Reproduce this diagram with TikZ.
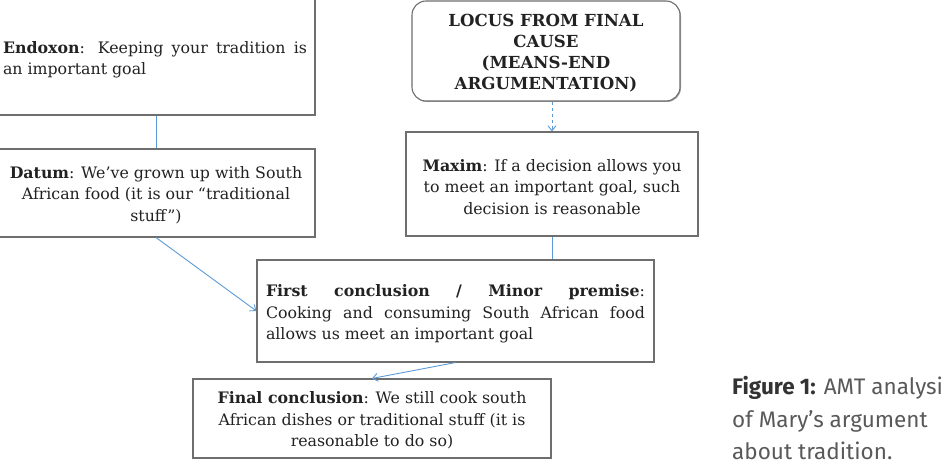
\documentclass[tikz,border=0pt]{standalone}
\usepackage{fontspec}
\setmainfont{DejaVu Serif}
\newfontfamily\capfont{Fira Sans}
\usetikzlibrary{arrows.meta,shadows}
\definecolor{lnblue}{HTML}{5B9BD5}
\definecolor{boxgray}{HTML}{6E6E6E}
\definecolor{txt}{HTML}{222222}
\tikzset{
  box/.style={draw=boxgray, line width=1.1pt, fill=white, inner xsep=8pt, inner ysep=4pt,
    font=\fontsize{15.8}{21.5}\selectfont, text=txt,
    drop shadow={shadow xshift=1pt, shadow yshift=-1pt, opacity=0.35, fill=black}},
  boxtext/.style={inner sep=0pt, font=\fontsize{15.8}{21.5}\selectfont, text=txt},
  link/.style={draw=lnblue, line width=0.9pt},
  arr/.style={link, -{Straight Barb[length=5pt,width=8pt]}},
}
\begin{document}
\begin{tikzpicture}[x=1pt,y=-1pt]
\useasboundingbox (0,0) rectangle (943,476);
\clip (0,0) rectangle (943,476);
% boxes
\node[box, minimum width=320pt, minimum height=130pt] (endoxon) at (155,50) {};
\node[box, minimum width=318pt, minimum height=88pt] (datum) at (156,193) {};
\node[box, rounded corners=14pt, minimum width=268pt, minimum height=100pt] (locus) at (546,51) {};
\node[box, minimum width=292pt, minimum height=104pt] (maxim) at (552,184) {};
\node[box, minimum width=397pt, minimum height=102pt] (first) at (455.5,311) {};
\node[box, minimum width=358pt, minimum height=79pt] (final) at (372,418.5) {};
% texts
\node[boxtext, align=justify, text width=304pt] (endoxontext) at (155,60)
  {\textbf{Endoxon}: Keeping your tradition is\linebreak an important goal};
\node[boxtext, align=center] (datumtext) at (156,195)
  {\textbf{Datum}: We've grown up with South\\African food (it is our “traditional\\stuff”)};
\node[boxtext, align=center, font=\fontsize{16.6}{21}\selectfont\bfseries] (locustext) at (546,53.5)
  {LOCUS FROM FINAL\\CAUSE\\(MEANS-END\\ARGUMENTATION)};
\node[boxtext, align=center] (maximtext) at (552,187)
  {\textbf{Maxim}: If a decision allows you\\to meet an important goal, such\\decision is reasonable};
\node[boxtext, align=justify, text width=379pt] (firsttext) at (455.5,314)
  {\textbf{First conclusion / Minor premise}:\linebreak Cooking and consuming South African food\linebreak allows us meet an important goal};
\node[boxtext, align=center] (finaltext) at (372,420.5)
  {\textbf{Final conclusion}: We still cook south\\African dishes or traditional stuff (it is\\reasonable to do so)};
\node[anchor=north west, align=left, inner sep=0pt, text=black!65,
  font=\capfont\fontsize{22.5}{32.5}\selectfont] (caption) at (732,376.5)
  {\textcolor{black!80}{\bfseries Figure 1:} AMT analysis\\of Mary’s argument\\about tradition.};
% connectors
\draw[link] (endoxon.south -| datum.north) -- (datum.north);
\draw[arr, dashed] (maxim.north |- locus.south) -- (maxim.north);
\draw[link] (maxim.south) -- (maxim.south |- first.north);
\draw[arr] (datum.south) -- (first.west);
\draw[arr] (first.south) -- (final.north);
\end{tikzpicture}
\end{document}
